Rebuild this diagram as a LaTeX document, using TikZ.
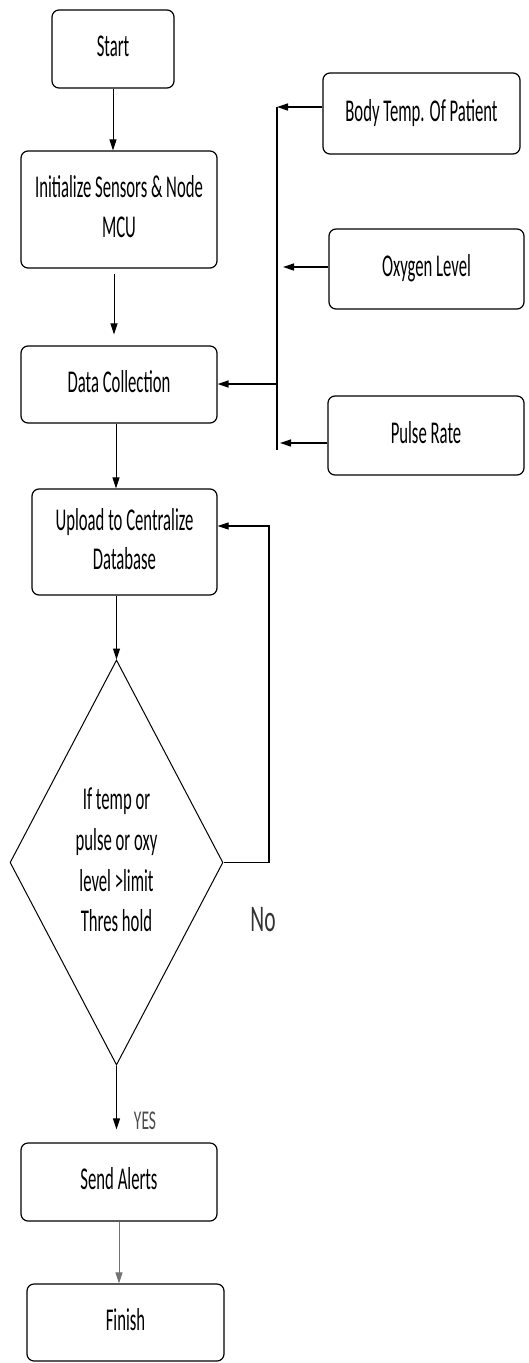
\documentclass[tikz,border=0pt]{standalone}
\usepackage{fontspec}
\setmainfont{Carlito}
\usetikzlibrary{shapes.geometric,arrows.meta}
\newcommand{\stx}[1]{\scalebox{1}[1.9]{\begin{tabular}{@{}c@{}}#1\end{tabular}}}
\begin{document}
\begin{tikzpicture}[x=1pt,y=-1pt,
  box/.style={draw, line width=1.2pt, rounded corners=7pt, inner sep=0pt, font=\fontsize{16.7}{21}\selectfont},
  dia/.style={diamond, aspect=0.526, draw, line width=1pt, inner sep=0pt, minimum width=213pt, minimum height=405pt, font=\fontsize{16.7}{21.5}\selectfont},
  arr/.style={-{Triangle[length=11pt,width=7pt]}, line width=1pt},
  lbl/.style={inner sep=0pt}]
\useasboundingbox (0,0) rectangle (529,1363);
\node[box, minimum width=122pt, minimum height=78pt] (start) at (113,49) {\stx{Start}};
\node[box, minimum width=196pt, minimum height=117pt] (init) at (119,209.5) {\stx{Initialize Sensors \& Node\\MCU}};
\node[box, minimum width=196pt, minimum height=77pt] (dc) at (119,384.5) {\stx{Data Collection}};
\node[box, minimum width=197pt, minimum height=81pt] (body) at (421.5,113.5) {\stx{Body Temp. Of Patient}};
\node[box, minimum width=195pt, minimum height=80pt] (oxy) at (426.5,269) {\stx{Oxygen Level}};
\node[box, minimum width=196pt, minimum height=79pt] (pulse) at (426,435.5) {\stx{Pulse Rate}};
\node[box, minimum width=185pt, minimum height=106pt] (up) at (124.5,542) {\stx{Upload to Centralize\\Database}};
\node[dia] (dia) at (116.5,862.5) {\stx{If temp or\\pulse or oxy\\level >limit\\Thres hold}};
\node[box, minimum width=196pt, minimum height=78pt] (send) at (119,1182) {\stx{Send Alerts}};
\node[box, minimum width=197pt, minimum height=77pt] (fin) at (125.5,1322.5) {\stx{Finish}};
\node[lbl, font=\fontsize{21.5}{24}\selectfont, text=black!80] (no) at (263,920) {\scalebox{1}[1.75]{No}};
\node[lbl, font=\fontsize{15.5}{18}\selectfont, text=black!70] (yes) at (145,1121) {\scalebox{1}[1.75]{YES}};
\coordinate (b1) at (277,107);
\coordinate (b2) at (277,450);
\coordinate (b3) at (277,384);
\coordinate (o1) at (283,267);
\coordinate (p1) at (280,443);
\coordinate (nl) at (269,526);
\draw[arr] (start.south) -- (start.south |- init.north);
\draw[arr] ([xshift=-5pt,yshift=-5pt]init.south) -- ([xshift=-5pt,yshift=11pt]dc.north);
\draw[arr] ([xshift=-3pt]dc.south) -- ([xshift=-3pt]dc.south |- up.north);
\draw[line width=1.3pt] (b1) -- (b2);
\draw[arr, line width=1.3pt] ([yshift=6.5pt]body.west) -- (b1);
\draw[arr, line width=1.3pt] ([yshift=2pt]oxy.west) -- (o1);
\draw[arr, line width=1.3pt] ([yshift=-7.5pt]pulse.west) -- (p1);
\draw[arr, line width=1.6pt] (b3) -- (b3 -| dc.east);
\draw[arr] ([xshift=-8pt]up.south) -- (dia.north);
\draw[arr, line width=1.2pt] (dia.east) -| (nl) -- (nl -| up.east);
\draw[arr] (dia.south) -- ([yshift=13pt]dia.south |- send.north);
\draw[arr, draw=black!55, fill=black] (send.south) -- (send.south |- fin.north);
\end{tikzpicture}
\end{document}
